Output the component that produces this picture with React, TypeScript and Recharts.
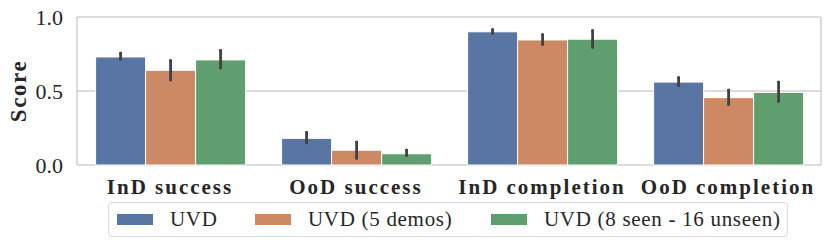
import { Bar, BarChart, CartesianGrid, ErrorBar, Legend, XAxis, YAxis } from "recharts";

const categories = ["InD success", "OoD success", "InD completion", "OoD completion"];

const uvd = [0.73, 0.18, 0.9, 0.56];
const uvdLow = [0.715, 0.15, 0.89, 0.535];
const uvdHigh = [0.755, 0.22, 0.915, 0.59];

const demos = [0.64, 0.1, 0.845, 0.455];
const demosLow = [0.575, 0.045, 0.815, 0.41];
const demosHigh = [0.705, 0.155, 0.88, 0.505];

const seen = [0.71, 0.076, 0.85, 0.49];
const seenLow = [0.655, 0.065, 0.795, 0.43];
const seenHigh = [0.775, 0.1, 0.907, 0.56];

const yTicks = [0, 0.5, 1.0];

const series = [
  { key: "uvd", name: "UVD", color: "#5875a4" },
  { key: "demos", name: "UVD (5 demos)", color: "#cc8963" },
  { key: "seen", name: "UVD (8 seen - 16 unseen)", color: "#5f9e6e" },
];

const data = categories.map((c, i) => ({
  category: c,
  uvd: uvd[i],
  uvdErr: [uvd[i] - uvdLow[i], uvdHigh[i] - uvd[i]],
  demos: demos[i],
  demosErr: [demos[i] - demosLow[i], demosHigh[i] - demos[i]],
  seen: seen[i],
  seenErr: [seen[i] - seenLow[i], seenHigh[i] - seen[i]],
}));

const FONT = "'Liberation Serif', serif";
const TEXT = "#262626";

// widths of each legend entry (swatch + label + gap), matches the reference spacing
const legendItemWidths = [138, 236, 290];

function LegendBox() {
  return (
    <div
      style={{
        boxSizing: "border-box",
        width: 680,
        height: 35,
        border: "1px solid #d9d9d9",
        borderRadius: 4,
        background: "#fff",
        display: "flex",
        alignItems: "center",
        paddingLeft: 8,
        fontFamily: FONT,
        fontSize: 21,
        lineHeight: "21px",
        color: TEXT,
        letterSpacing: 0.7,
        whiteSpace: "nowrap",
      }}
    >
      {series.map((s, i) => (
        <div
          key={s.key}
          style={{ display: "flex", alignItems: "center", flex: "none", width: legendItemWidths[i] }}
        >
          <span style={{ width: 36, height: 11, background: s.color, marginRight: 17, flex: "none" }} />
          <span>{s.name}</span>
        </div>
      ))}
    </div>
  );
}

export default function App() {
  return (
    <div style={{ position: "absolute", left: 0, top: 0, width: 831, height: 246, background: "#fff" }}>
      <BarChart
        width={831}
        height={246}
        data={data}
        margin={{ top: 17, right: 10, bottom: 51, left: 0 }}
        barCategoryGap="10%"
        barGap={0}
      >
        <CartesianGrid
          stroke="#d0d0d0"
          strokeWidth={1.5}
          verticalCoordinatesGenerator={({ offset }) => [offset.left, offset.left + offset.width]}
        />
        <XAxis
          dataKey="category"
          axisLine={false}
          tickLine={false}
          height={30}
          tickMargin={8}
          interval={0}
          tick={{ fontFamily: FONT, fontSize: 21, fontWeight: "bold", fill: TEXT, letterSpacing: 2 }}
        />
        <YAxis
          width={77}
          domain={[0, 1]}
          ticks={yTicks}
          tickFormatter={(v) => Number(v).toFixed(1)}
          axisLine={false}
          tickLine={false}
          tickMargin={8}
          tick={{ fontFamily: FONT, fontSize: 22, fill: TEXT }}
          label={{
            content: () => (
              <text
                x={18}
                y={91}
                transform="rotate(-90 18 91)"
                textAnchor="middle"
                dominantBaseline="central"
                fontFamily={FONT}
                fontSize={23}
                fontWeight="bold"
                fill={TEXT}
                letterSpacing={1.6}
              >
                Score
              </text>
            ),
          }}
        />
        <Legend
          layout="vertical"
          align="center"
          verticalAlign="middle"
          wrapperStyle={{ left: 108, top: 202, width: 680, height: 35 }}
          content={() => <LegendBox />}
        />
        {series.map((s) => (
          <Bar
            key={s.key}
            dataKey={s.key}
            name={s.name}
            fill={s.color}
            stroke="#fff"
            strokeWidth={1}
            isAnimationActive={false}
          >
            <ErrorBar
              dataKey={`${s.key}Err`}
              width={0}
              stroke="#424242"
              strokeWidth={2.8}
              strokeLinecap="round"
              isAnimationActive={false}
            />
          </Bar>
        ))}
      </BarChart>
    </div>
  );
}
